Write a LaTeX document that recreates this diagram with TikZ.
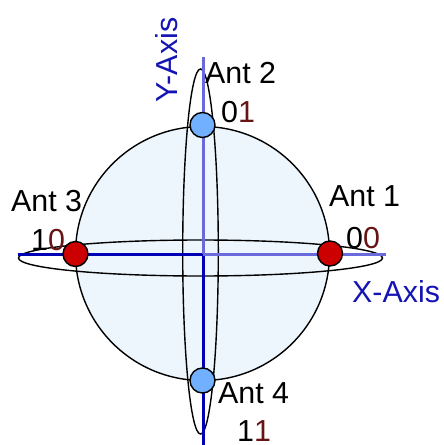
\documentclass[tikz,border=0pt]{standalone}
\usepackage{fontspec}
\setmainfont{Liberation Sans}
\definecolor{sphere}{HTML}{EDF6FD}
\definecolor{axdk}{HTML}{0000B4}
\definecolor{axlt}{HTML}{6A6ADC}
\definecolor{antred}{HTML}{CC0000}
\definecolor{antblue}{HTML}{70B0FF}
\definecolor{bitred}{HTML}{661414}
\definecolor{axtext}{HTML}{1414B4}
\begin{document}
\begin{tikzpicture}[x=1bp,y=-1bp,
  lbl/.style={inner sep=0pt, font=\fontsize{30.5}{36}\selectfont},
  ring/.style={draw=black, line width=1.4bp},
  axdark/.style={draw=axdk, line width=3bp},
  axlight/.style={draw=axlt, line width=3bp},
  antdot/.style={circle, draw=black, line width=1.4bp, minimum size=25bp, inner sep=0pt},
  reddot/.style={antdot, fill=antred},
  bluedot/.style={antdot, fill=antblue}]
\useasboundingbox (0,0) rectangle (444,445);
% sphere
\node[circle, draw=black, line width=1.4bp, fill=sphere, minimum size=254bp, inner sep=0pt] (sph) at (202.5,253.5) {};
% rings
\draw[ring] (200.5,258) ellipse [x radius=182, y radius=18];
\draw[ring] (200.5,251.5) ellipse [x radius=17.8, y radius=182.5];
% axes
\coordinate (O) at (203,254);
\coordinate (xl) at (18,254);
\coordinate (xr) at (386,254);
\coordinate (yt) at (203,57);
\coordinate (yb) at (203,445);
\draw[axdark] (xl) -- (O);
\draw[axdark] (O) -- (yb);
\draw[axlight] (O) -- (xr);
\draw[axlight] (O) -- (yt);
% antennas
\node[reddot] (a1) at (330,253.5) {};
\node[bluedot] (a2) at (202.5,125) {};
\node[reddot] (a3) at (75.5,254) {};
\node[bluedot] (a4) at (202.5,380.5) {};
% labels
\node[lbl, anchor=base west] (t1) at (329,207) {Ant 1};
\node[lbl, anchor=base west] (b1) at (346,248) {0\textcolor{bitred}{0}};
\node[lbl, anchor=base west] (t2) at (205,84) {Ant 2};
\node[lbl, anchor=base west] (b2) at (221,123) {0\textcolor{bitred}{1}};
\node[lbl, anchor=base west] (t3) at (11,212) {Ant 3};
\node[lbl, anchor=base west] (b3) at (31,250) {1\textcolor{bitred}{0}};
\node[lbl, anchor=base west] (t4) at (218,403) {Ant 4};
\node[lbl, anchor=base west] (b4) at (237,441.5) {1\textcolor{bitred}{1}};
\node[lbl, anchor=base west, text=axtext] (xa) at (352,302) {X-Axis};
\node[lbl, anchor=base west, text=axtext, rotate=90] (ya) at (177,103) {Y-Axis};
\end{tikzpicture}
\end{document}
